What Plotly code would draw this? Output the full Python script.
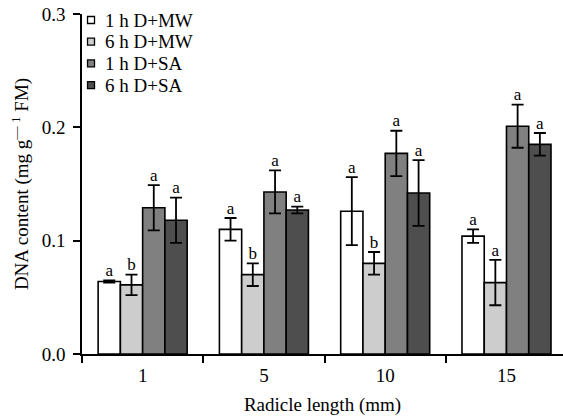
import plotly.graph_objects as go

# Radicle length groups (mm)
radicle_length = ["1", "5", "10", "15"]

# Treatment series
series_names = ["1 h D+MW", "6 h D+MW", "1 h D+SA", "6 h D+SA"]
series_colors = ["#ffffff", "#cdcdcd", "#808080", "#4e4e4e"]

# DNA content (mg g-1 FM), means
dna_1h_mw = [0.064, 0.110, 0.126, 0.104]
dna_6h_mw = [0.061, 0.070, 0.080, 0.063]
dna_1h_sa = [0.129, 0.143, 0.177, 0.201]
dna_6h_sa = [0.118, 0.127, 0.142, 0.185]

# Error bar half-widths
err_1h_mw = [0.001, 0.010, 0.030, 0.006]
err_6h_mw = [0.009, 0.010, 0.010, 0.020]
err_1h_sa = [0.020, 0.019, 0.020, 0.019]
err_6h_sa = [0.020, 0.003, 0.029, 0.010]

# Significance letters
sig_1h_mw = ["a", "a", "a", "a"]
sig_6h_mw = ["b", "b", "b", "a"]
sig_1h_sa = ["a", "a", "a", "a"]
sig_6h_sa = ["a", "a", "a", "a"]

values = [dna_1h_mw, dna_6h_mw, dna_1h_sa, dna_6h_sa]
errors = [err_1h_mw, err_6h_mw, err_1h_sa, err_6h_sa]
letters = [sig_1h_mw, sig_6h_mw, sig_1h_sa, sig_6h_sa]

FONT = "Liberation Serif"
FS = 19
GAP = 0.266

fig = go.Figure()

for i, name in enumerate(series_names):
    fig.add_trace(go.Bar(
        x=radicle_length, y=values[i], name=name,
        offsetgroup=str(i),
        marker=dict(color=series_colors[i], line=dict(color="black", width=1.6)),
        error_y=dict(type="data", array=errors[i], color="black",
                     thickness=1.8, width=6),
        showlegend=False,
    ))

# Significance letters above the error bars
for i, name in enumerate(series_names):
    tops = [v + e for v, e in zip(values[i], errors[i])]
    fig.add_trace(go.Scatter(
        x=radicle_length, y=tops, mode="text", text=letters[i],
        offsetgroup=str(i),
        textposition="top center",
        textfont=dict(family=FONT, size=17, color="black"),
        showlegend=False, hoverinfo="skip",
    ))

# Legend keys drawn beside the y axis
for i, name in enumerate(series_names):
    y_row = 1 - (20 + 21.7 * i - 14) / 340
    fig.add_shape(type="rect", xref="paper", yref="paper",
                  x0=0.0115, x1=0.026, y0=y_row - 0.0103, y1=y_row + 0.0103,
                  line=dict(color="black", width=1.3),
                  fillcolor=series_colors[i])
    fig.add_annotation(xref="paper", yref="paper", x=0.043, y=y_row,
                       text=name, showarrow=False, xanchor="left",
                       yanchor="middle",
                       font=dict(family=FONT, size=FS, color="black"))

fig.update_layout(
    width=563, height=417,
    margin=dict(l=82, r=0, t=14, b=63),
    plot_bgcolor="white", paper_bgcolor="white",
    barmode="group", bargap=GAP, bargroupgap=0,
    scattermode="group", scattergap=GAP,
    font=dict(family=FONT, size=FS, color="black"),
    xaxis=dict(
        type="category", range=[-0.5, 3.466],
        showline=True, linecolor="black", linewidth=1.5,
        ticks="outside", tickson="boundaries", ticklen=7,
        tickwidth=1.5, tickcolor="black", ticklabelstandoff=3,
        showgrid=False, zeroline=False,
        title=dict(text="Radicle length (mm)", standoff=13,
                   font=dict(family=FONT, size=FS)),
        tickfont=dict(family=FONT, size=FS),
    ),
    yaxis=dict(
        range=[0, 0.3], dtick=0.1, tickformat=".1f",
        showline=True, linecolor="black", linewidth=1.5,
        ticks="outside", ticklen=7, tickwidth=1.5, tickcolor="black",
        ticklabelstandoff=4,
        showgrid=False, zeroline=False,
        title=dict(text="DNA content (mg g<sup>\u2014 1</sup> FM)",
                   standoff=8, font=dict(family=FONT, size=FS)),
        tickfont=dict(family=FONT, size=FS),
    ),
)

fig.write_html("out.html")
